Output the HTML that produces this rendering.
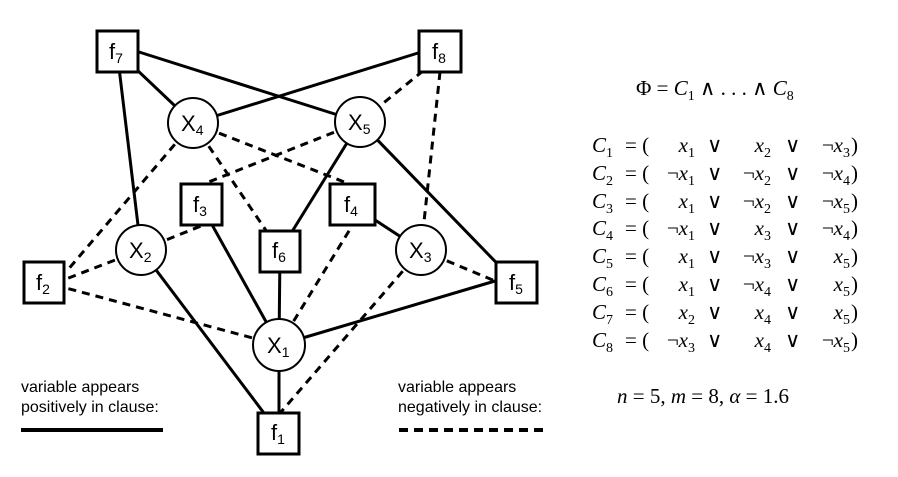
<!DOCTYPE html>
<html><head><meta charset="utf-8"><style>
body{margin:0;background:#fff;width:898px;height:477px;overflow:hidden;position:relative;font-family:"Liberation Serif",serif}
.m{position:absolute;font-size:21px;font-style:italic;white-space:pre;line-height:1}
.m sub{font-size:14px;font-style:normal}
.r{font-style:normal}
</style></head><body>
<svg width="898" height="477" style="position:absolute;left:0;top:0" font-family="Liberation Sans, sans-serif">
<g stroke="#000" stroke-width="3" fill="none">
<line x1="139" y1="52" x2="360" y2="122"/>
<line x1="117" y1="51" x2="193" y2="123"/>
<line x1="117" y1="51" x2="141" y2="250"/>
<line x1="418" y1="53" x2="193" y2="123"/>
<line x1="360" y1="122" x2="280" y2="251"/>
<line x1="360" y1="122" x2="516" y2="283"/>
<line x1="201" y1="205" x2="279" y2="345"/>
<line x1="141" y1="250" x2="279" y2="433"/>
<line x1="280" y1="251" x2="279" y2="345"/>
<line x1="279" y1="345" x2="279" y2="433"/>
<line x1="279" y1="345" x2="495" y2="281"/>
<line x1="421" y1="250" x2="352" y2="205"/>
</g>
<g stroke="#000" stroke-width="3" fill="none" stroke-dasharray="8,6">
<line x1="434" y1="62" x2="360" y2="122"/>
<line x1="440" y1="72" x2="421" y2="250"/>
<line x1="193" y1="123" x2="66" y2="272"/>
<line x1="193" y1="123" x2="280" y2="251"/>
<line x1="193" y1="123" x2="352" y2="185"/>
<line x1="360" y1="122" x2="201" y2="185"/>
<line x1="141" y1="250" x2="66" y2="279"/>
<line x1="141" y1="250" x2="201" y2="226"/>
<line x1="279" y1="345" x2="66" y2="288"/>
<line x1="279" y1="345" x2="352" y2="226"/>
<line x1="421" y1="250" x2="495" y2="281"/>
<line x1="421" y1="250" x2="281" y2="412"/>
</g>
<g stroke="#000" stroke-width="3" fill="#fff">
<rect x="97" y="31" width="41" height="41"/>
<rect x="419" y="31" width="42" height="41"/>
<rect x="181" y="184" width="41" height="41"/>
<rect x="330" y="184" width="45" height="41"/>
<rect x="260" y="231" width="40" height="41"/>
<rect x="24" y="262" width="40" height="41"/>
<rect x="496" y="262" width="41" height="41"/>
<rect x="258" y="413" width="41" height="41"/>
</g>
<g stroke="#000" stroke-width="2" fill="#fff">
<circle cx="193" cy="123" r="25"/>
<circle cx="360" cy="122" r="25"/>
<circle cx="141" cy="250" r="25"/>
<circle cx="421" cy="250" r="25"/>
<circle cx="279" cy="345" r="26"/>
</g>
<g font-size="22" fill="#000">
<text x="109" y="59">f<tspan font-size="14" dy="4">7</tspan></text>
<text x="432" y="59">f<tspan font-size="14" dy="4">8</tspan></text>
<text x="193" y="212">f<tspan font-size="14" dy="4">3</tspan></text>
<text x="344" y="212">f<tspan font-size="14" dy="4">4</tspan></text>
<text x="272" y="258">f<tspan font-size="14" dy="4">6</tspan></text>
<text x="36" y="290">f<tspan font-size="14" dy="4">2</tspan></text>
<text x="509" y="290">f<tspan font-size="14" dy="4">5</tspan></text>
<text x="271" y="440">f<tspan font-size="14" dy="4">1</tspan></text>
<text x="181" y="131">X<tspan font-size="14" dy="4">4</tspan></text>
<text x="348" y="130">X<tspan font-size="14" dy="4">5</tspan></text>
<text x="129" y="258">X<tspan font-size="14" dy="4">2</tspan></text>
<text x="409" y="258">X<tspan font-size="14" dy="4">3</tspan></text>
<text x="267" y="353">X<tspan font-size="14" dy="4">1</tspan></text>
</g>
<g font-size="16" fill="#000">
<text x="21" y="392">variable appears</text>
<text x="21" y="412">positively in clause:</text>
<text x="398" y="392">variable appears</text>
<text x="398" y="412">negatively in clause:</text>
</g>
<line x1="21" y1="430" x2="163" y2="430" stroke="#000" stroke-width="4"/>
<line x1="399" y1="430" x2="547" y2="430" stroke="#000" stroke-width="4" stroke-dasharray="9,6"/>
</svg>
<div class="m" style="left:636px;top:78px"><span class="r">Φ = </span>C<sub>1</sub> <span class="r">∧ . . . ∧ </span>C<sub>8</sub></div>
<div id="cl"></div>
<div class="m" style="left:617px;top:386px">n <span class="r">= 5,</span> m <span class="r">= 8,</span> α <span class="r">= 1.6</span></div>
<script>
var rows=[["","1","","2","¬","3"],["¬","1","¬","2","¬","4"],["","1","¬","2","¬","5"],["¬","1","","3","¬","4"],["","1","¬","3","","5"],["","1","¬","4","","5"],["","2","","4","","5"],["¬","3","","4","¬","5"]];
var h="";
rows.forEach(function(r,i){var y=135+i*27.8;
h+='<div class="m" style="left:592px;top:'+y+'px">C<sub>'+(i+1)+'</sub></div>';
h+='<div class="m r" style="left:625px;top:'+y+'px">= (</div>';
h+='<div class="m" style="left:655px;top:'+y+'px;width:40px;text-align:right"><span class="r">'+r[0]+'</span>x<sub>'+r[1]+'</sub></div>';
h+='<div class="m r" style="left:707px;top:'+y+'px">∨</div>';
h+='<div class="m" style="left:731px;top:'+y+'px;width:40px;text-align:right"><span class="r">'+r[2]+'</span>x<sub>'+r[3]+'</sub></div>';
h+='<div class="m r" style="left:785px;top:'+y+'px">∨</div>';
h+='<div class="m" style="left:808px;top:'+y+'px;width:42px;text-align:right"><span class="r">'+r[4]+'</span>x<sub>'+r[5]+'</sub></div>';
h+='<div class="m r" style="left:851px;top:'+y+'px">)</div>';});
document.getElementById("cl").innerHTML=h;
</script>
</body></html>
